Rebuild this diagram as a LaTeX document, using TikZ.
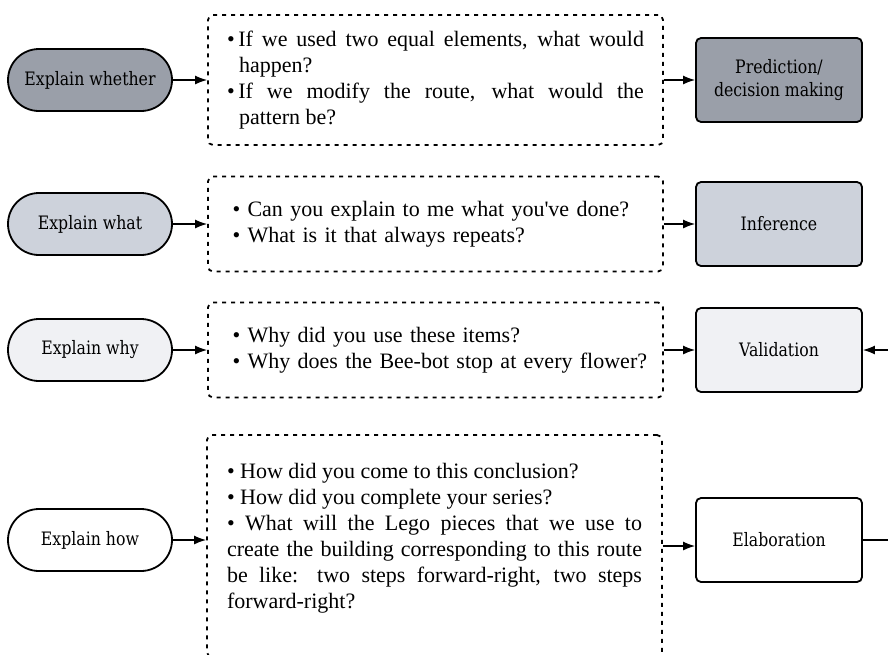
\documentclass[tikz,border=0pt]{standalone}
\usepackage{fontspec}
\setmainfont{Liberation Serif}
\newfontfamily\labelfont[FakeStretch=0.85]{DejaVu Serif}
\usetikzlibrary{arrows.meta}
\definecolor{darkgrey}{RGB}{154,159,169}
\definecolor{midgrey}{RGB}{205,210,219}
\definecolor{lightgrey}{RGB}{240,241,244}

\begin{document}
\begin{tikzpicture}[
        x=1pt, y=-1pt,
        -{Latex[length=12pt,width=9pt]},
        line width=1.3pt,
        explain/.style ={draw, line width=1.8pt, rounded corners=31pt, minimum width=164pt, minimum height=62pt, font=\labelfont\fontsize{18.5}{22}\selectfont},
        outcome/.style ={draw, line width=1.8pt, rounded corners=5pt, minimum width=166pt, minimum height=84pt, align=center, font=\labelfont\fontsize{18.5}{23}\selectfont},
        questions/.style ={draw, line width=1.8pt, dash pattern=on 4pt off 5pt, rounded corners=5pt, minimum width=455pt, inner xsep=0pt, font=\fontsize{22}{26}\selectfont},
    ]
    \useasboundingbox (0,0) rectangle (888,654);

    \node[explain, fill=darkgrey] (whether) at (90,80) {Explain whether};
    \node[explain, fill=midgrey] (what) at (90,224) {Explain what};
    \node[explain, fill=lightgrey] (why) at (90,350) {Explain why};
    \node[explain, fill=white] (how) at (90,540) {Explain how};

    \node[questions, minimum height=130pt, text width=417pt, align=justify] (q1) at (435.5,80) {%
        \hangindent=12pt\hangafter=1 \textbullet\,If we used two equal elements, what would\linebreak happen?\par
        \hangindent=12pt\hangafter=1 \textbullet\,If we modify the route, what would the\linebreak pattern be?\par};
    \node[questions, minimum height=95pt, text width=426pt, align=left] (q2) at (435.5,224) {%
        \leftskip=10pt
        \textbullet\ Can you explain to me what you\textquotesingle ve done?\\
        \textbullet\ What is it that always repeats?\par};
    \node[questions, minimum height=95pt, text width=426pt, align=left] (q3) at (435.5,350) {%
        \leftskip=10pt
        \textbullet\ Why did you use these items?\\
        \textbullet\ Why does the Bee-bot stop at every flower?\par};
    \node[questions, minimum height=222pt, text width=415pt, align=justify] (q4) at (434.5,546) {%
        \textbullet\ How did you come to this conclusion?\par
        \textbullet\ How did you complete your series?\par
        \textbullet\ What will the Lego pieces that we use to\linebreak
        create the building corresponding to this route\linebreak
        be like: two steps forward-right, two steps\linebreak
        forward-right?\par\nointerlineskip\vspace{16pt}\hbox{}};

    \node[outcome, fill=darkgrey] (predict) at (779,80) {Prediction/\\decision making};
    \node[outcome, fill=midgrey] (infer) at (779,224) {Inference};
    \node[outcome, fill=lightgrey] (valid) at (779,350) {Validation};
    \node[outcome, fill=white] (elab) at (779,540) {Elaboration};

    \coordinate (fromright) at (900,350);
    \coordinate (toright) at (900,540);

    \path (whether) edge (q1);
    \path (what) edge (q2);
    \path (why) edge (q3);
    \path (how) edge (how -| q4.west);

    \path (q1) edge (predict);
    \path (q2) edge (infer);
    \path (q3) edge (valid);
    \path (q4.east) edge (q4.east -| elab.west);

    \path (fromright) edge (valid);
    \draw[-] (elab) -- (toright);
\end{tikzpicture}
\end{document}
